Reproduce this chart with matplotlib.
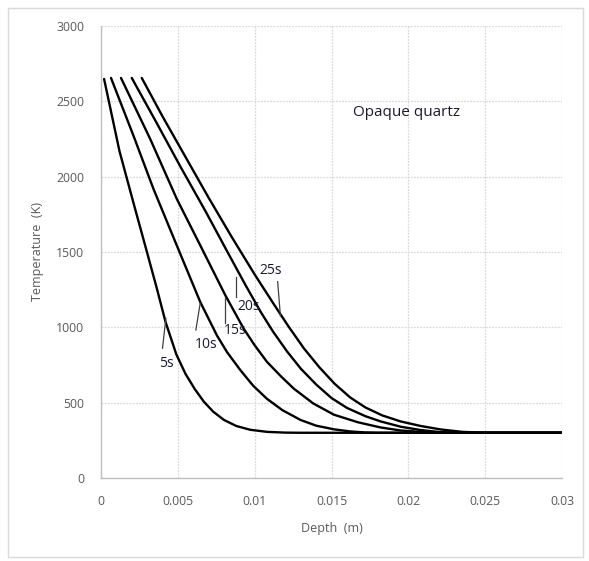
import matplotlib
matplotlib.use("Agg")
import matplotlib.pyplot as plt
from matplotlib.patches import Rectangle

# Depth (m) and temperature (K)
x_5s = [0.0002, 0.0012, 0.0021, 0.0030, 0.0036, 0.0042, 0.0049, 0.0055, 0.0061, 0.0067, 0.0073, 0.0080, 0.0088, 0.0097, 0.0108, 0.0120, 0.0130, 0.0300]
t_5s = [2648, 2170, 1830, 1495, 1270, 1035, 820, 690, 590, 505, 440, 385, 345, 320, 306, 301, 300, 300]

x_10s = [0.00065, 0.00211, 0.00341, 0.00493, 0.00646, 0.00754, 0.0082, 0.00907, 0.0099, 0.0108, 0.0118, 0.01298, 0.0140, 0.01515, 0.0162, 0.0172, 0.0180, 0.0300]
t_10s = [2655, 2272, 1919, 1543, 1167, 946, 835, 715, 612, 525, 450, 385, 347, 323, 309, 302, 300, 300]

x_15s = [0.0013, 0.0032, 0.00493, 0.00646, 0.00809, 0.00928, 0.0100, 0.0108, 0.0117, 0.01254, 0.0138, 0.01515, 0.0167, 0.0182, 0.0195, 0.0205, 0.0220, 0.0300]
t_15s = [2655, 2250, 1852, 1543, 1212, 991, 880, 770, 675, 593, 495, 420, 370, 335, 315, 308, 300, 300]

x_20s = [0.0020, 0.0036, 0.0052, 0.0068, 0.0082, 0.0094, 0.0104, 0.0112, 0.0121, 0.0130, 0.0140, 0.0150, 0.0160, 0.0172, 0.0182, 0.0195, 0.0208, 0.0220, 0.0230, 0.0300]
t_20s = [2655, 2360, 2060, 1770, 1505, 1280, 1100, 970, 840, 725, 620, 530, 465, 410, 375, 340, 318, 305, 300, 300]

x_25s = [0.00265, 0.0040, 0.0055, 0.0070, 0.0085, 0.0100, 0.0112, 0.0122, 0.0132, 0.0142, 0.0152, 0.0162, 0.0172, 0.0183, 0.0195, 0.0208, 0.0221, 0.0235, 0.0250, 0.0300]
t_25s = [2655, 2400, 2130, 1860, 1600, 1350, 1160, 1005, 860, 735, 625, 535, 468, 415, 375, 345, 322, 306, 300, 300]

series = [(x_5s, t_5s), (x_10s, t_10s), (x_15s, t_15s), (x_20s, t_20s), (x_25s, t_25s)]

labels = ["5s", "10s", "15s", "20s", "25s"]
label_x = [0.00424, 0.00683, 0.00874, 0.0096, 0.01106]
label_t = [761, 883, 982, 1137, 1376]
leader_x0 = [0.0040, 0.00617, 0.00808, 0.00878, 0.01149]
leader_t0 = [861, 982, 1027, 1203, 1303]
leader_x1 = [0.00422, 0.00645, 0.00808, 0.00878, 0.01167]
leader_t1 = [1060, 1159, 1203, 1336, 1075]

x_ticks = [0, 0.005, 0.01, 0.015, 0.02, 0.025, 0.03]
x_tick_labels = ["0", "0.005", "0.01", "0.015", "0.02", "0.025", "0.03"]
y_ticks = [0, 500, 1000, 1500, 2000, 2500, 3000]

plt.rcParams['font.family'] = ['Open Sans', 'DejaVu Sans']

fig = plt.figure(figsize=(5.89, 5.61), dpi=100)
ax = fig.add_axes([0.1715, 0.148, 0.9545 - 0.1715, 0.9537 - 0.148])

grid_c = "#d9d9d9"
text_c = "#595959"

for xs, ts in series:
    ax.plot(xs, ts, color="black", lw=1.7, solid_joinstyle="round", solid_capstyle="round", zorder=3)

for i, lab in enumerate(labels):
    ax.plot([leader_x0[i], leader_x1[i]], [leader_t0[i], leader_t1[i]], color="#404040", lw=0.9, zorder=3)
    ax.text(label_x[i], label_t[i], lab, ha="center", va="center", fontsize=10, color="#1a1a33", zorder=4)

ax.text(0.0164, 2429, "Opaque quartz", ha="left", va="center", fontsize=11, color="#1a1a2e")

ax.set_xlim(0, 0.03)
ax.set_ylim(0, 3000)
ax.set_xticks(x_ticks)
ax.set_xticklabels(x_tick_labels)
ax.set_yticks(y_ticks)
ax.tick_params(length=0, colors=text_c, labelsize=8.8)
ax.tick_params(axis="y", pad=12)
ax.tick_params(axis="x", pad=12)
ax.grid(True, color=grid_c, linestyle=(0, (1.5, 1)), lw=0.9)
ax.set_axisbelow(True)
for s in ["top", "right"]:
    ax.spines[s].set_visible(False)
for s in ["left", "bottom"]:
    ax.spines[s].set_color("#bfbfbf")
    ax.spines[s].set_linewidth(1.0)

ax.set_xlabel("Depth  (m)", fontsize=9, color=text_c, labelpad=10)
ax.set_ylabel("Temperature  (K)", fontsize=9, color=text_c, labelpad=9)

fig.patches.append(Rectangle((8 / 589, 4 / 561), 575 / 589, 549 / 561, transform=fig.transFigure,
                             fill=False, edgecolor="#d9d9d9", lw=1.0))

fig.savefig("out.png", dpi=100)
